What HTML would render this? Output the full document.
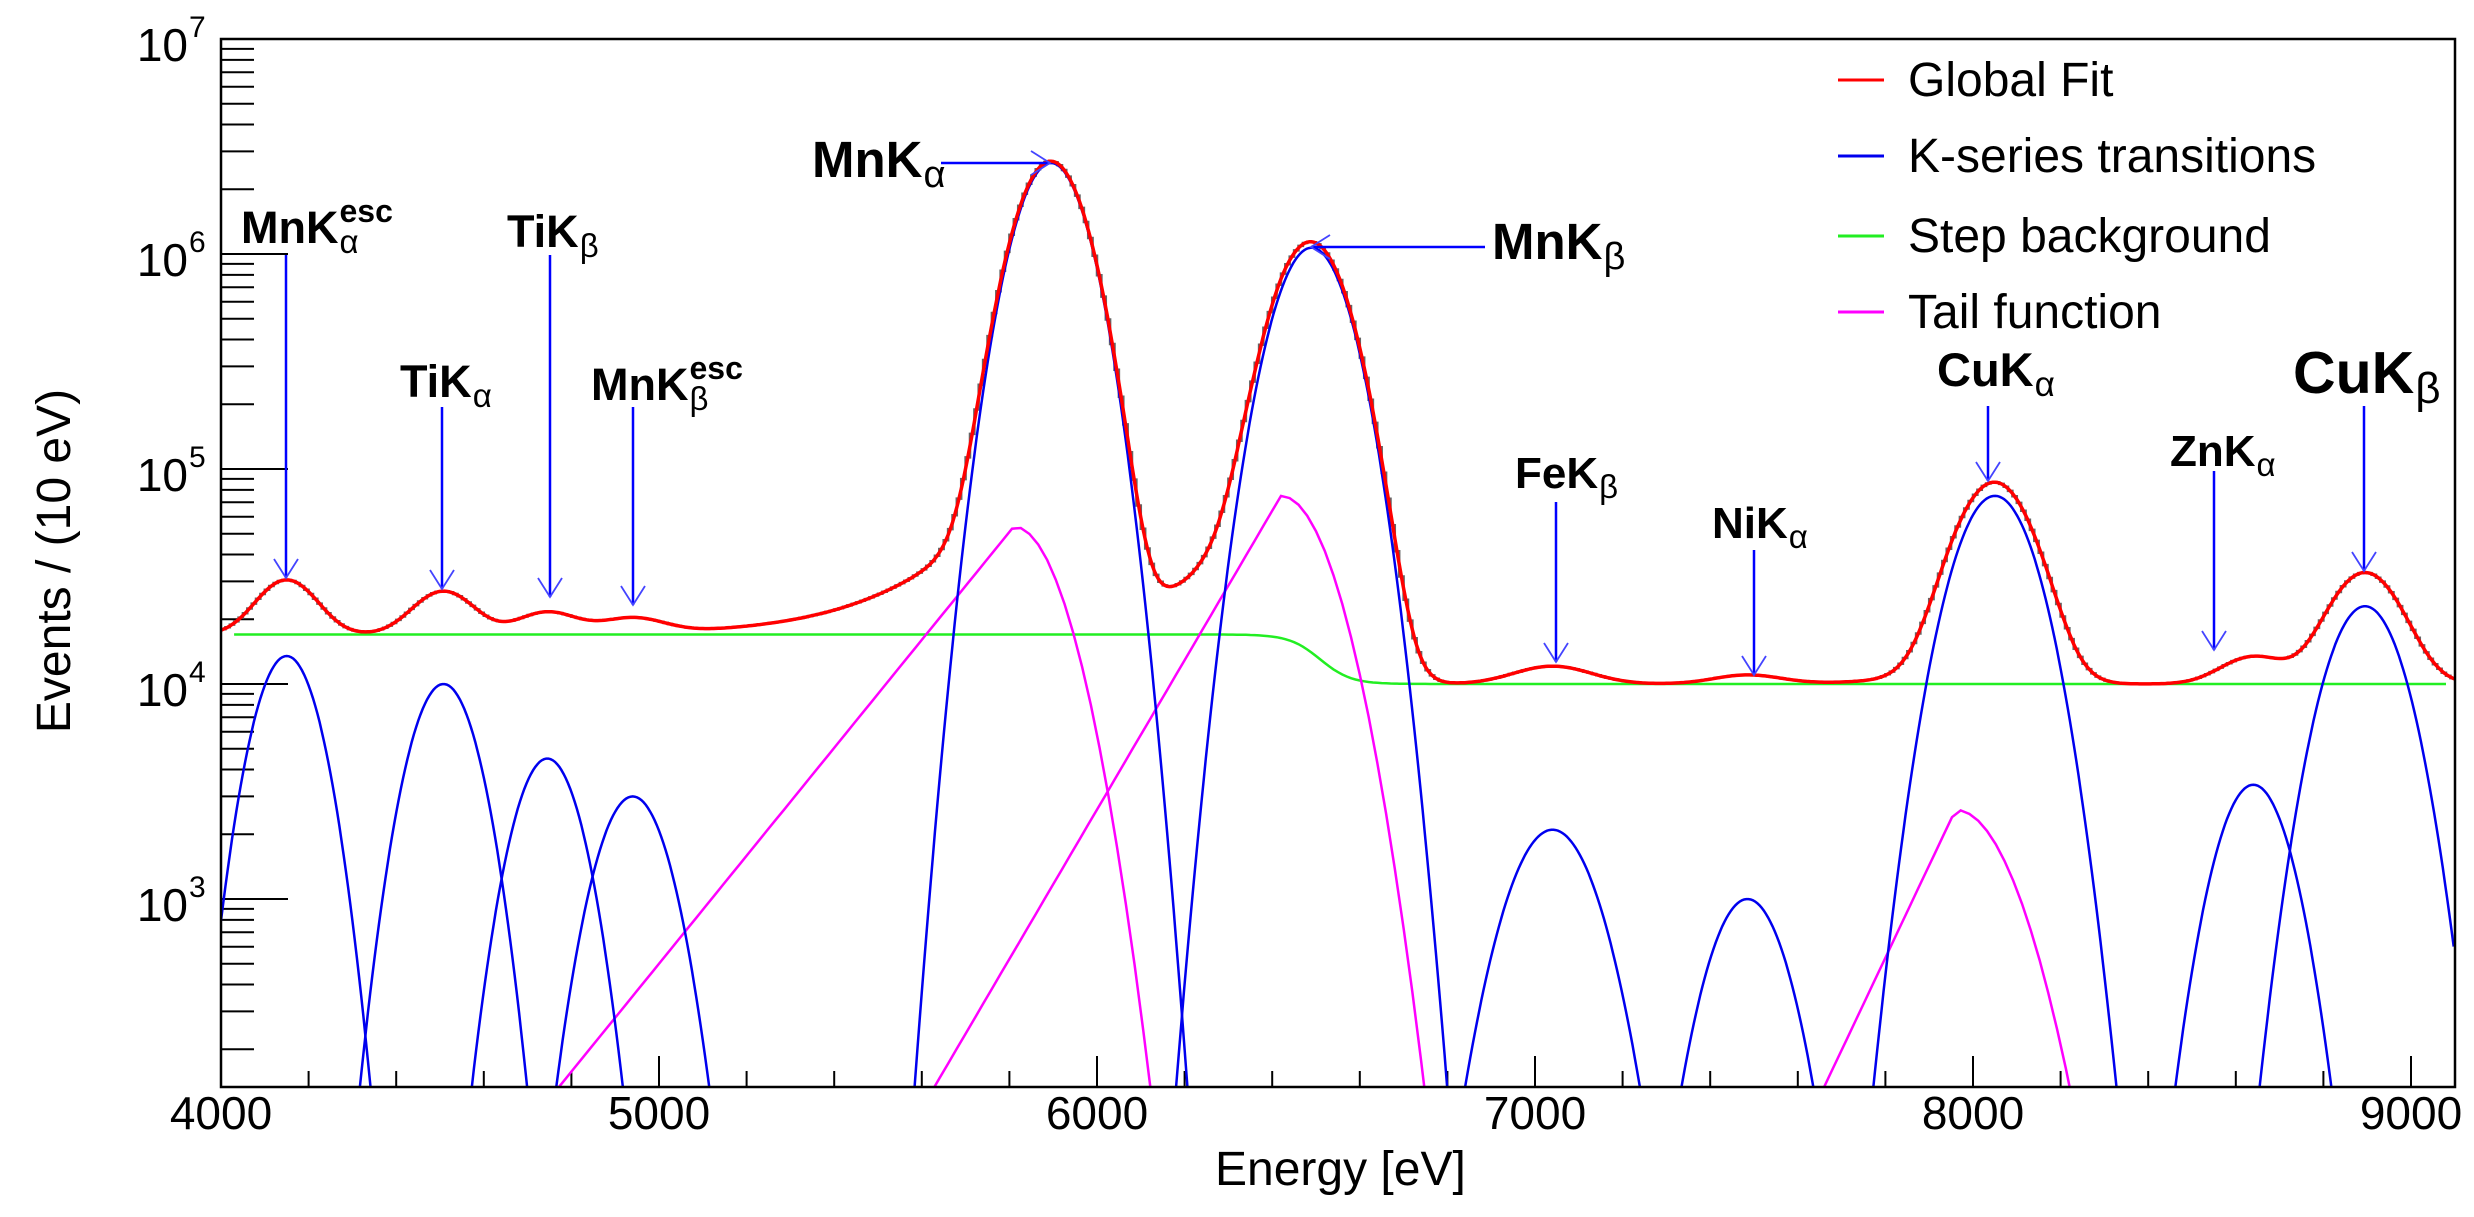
<!DOCTYPE html>
<html><head><meta charset="utf-8"><style>
html,body{margin:0;padding:0;background:#fff;overflow:hidden;width:2474px;height:1217px;}
svg{display:block;font-family:"Liberation Sans",Arial,sans-serif;}
</style></head><body>
<svg id="chart" width="2474" height="1217" viewBox="0 0 2474 1217" xmlns="http://www.w3.org/2000/svg">
<defs><clipPath id="plotclip"><rect x="221" y="39" width="2234" height="1048"/></clipPath></defs>
<rect x="0" y="0" width="2474" height="1217" fill="#fff"/>
<g id="axes"></g>
<g id="series" clip-path="url(#plotclip)"></g>
<rect x="221" y="39" width="2234" height="1048" fill="none" stroke="#000" stroke-width="2.5"/>
<g id="annot"></g>
<g id="legend"></g>
<text x="1215" y="1185" font-size="48">Energy [eV]</text>
<text transform="translate(70,561) rotate(-90)" text-anchor="middle" font-size="48">Events / (10 eV)</text>
</svg>
<script>
// ---- data ----
const peakNames = ["MnKa-esc","TiKa","TiKb","MnKb-esc","MnKa","MnKb","FeKb","NiKa","CuKa","ZnKa","CuKb"];
const peakEnergy = [4150,4508,4745,4940,5895,6490,7040,7485,8050,8640,8895];
const peakAmp = [13500,10000,4500,3000,2650000,1070000,2100,1000,75000,3400,23000];
const peakSigma = [63,65,65,70,70,73,85,75,78,70,75];
const tailEnergy = [5810,6420,7960];
const tailAmp = [54000,75000,2600];
const tailBeta = [173,125,101];
const tailSigma = [90,92,107];
const stepHigh = 17000, stepLow = 10000, stepCenter = 6500, stepWidth = 70;
const xTickLabels = [4000,5000,6000,7000,8000,9000];
const yDecades = [3,4,5,6,7];

// ---- scales ----
const X0=221, XPX=0.438, YTOP=39, DEC=215, PLOTB=1087, PLOTR=2455;
function xs(E){return X0+(E-4000)*XPX;}
function ys(v){v=Math.max(v,1e-3);return YTOP+(7-Math.log10(v))*DEC;}
const NS="http://www.w3.org/2000/svg";
function mk(tag,attrs,parent){const e=document.createElementNS(NS,tag);for(const k in attrs)e.setAttribute(k,attrs[k]);parent.appendChild(e);return e;}

function gauss(i,E){const d=(E-peakEnergy[i])/peakSigma[i];return peakAmp[i]*Math.exp(-d*d/2);}
function tail(i,E){const d=E-tailEnergy[i];if(d<0)return tailAmp[i]*Math.exp(d/tailBeta[i]);const z=d/tailSigma[i];return tailAmp[i]*Math.exp(-z*z/2);}
function step(E){return stepLow+(stepHigh-stepLow)*0.5*(1-Math.tanh((E-stepCenter)/stepWidth));}
function fit(E){let s=step(E);for(let i=0;i<peakEnergy.length;i++)s+=gauss(i,E);for(let i=0;i<tailEnergy.length;i++)s+=tail(i,E);return s;}

const axes=document.getElementById('axes');
const series=document.getElementById('series');
const annot=document.getElementById('annot');
const legend=document.getElementById('legend');

// ---- axes ticks ----
for(let E=4000;E<=9100;E+=200){
  const major=(E%1000===0);
  const t=mk('line',{x1:xs(E),x2:xs(E),y1:PLOTB,y2:PLOTB-(major?31:16),stroke:'#000','stroke-width':2},axes);
  
  
}
xTickLabels.forEach(v=>{
  const t=mk('text',{x:xs(v),y:1129,'text-anchor':'middle','font-size':46},axes);
  t.textContent=String(v);
  
  
});
const ymin=Math.pow(10,7-(PLOTB-YTOP)/DEC);
yDecades.forEach(d=>{
  for(let m=1;m<=9;m++){
    const v=m*Math.pow(10,d-1);
    if(v<ymin||v>1e7+1)continue;
    const t=mk('line',{x1:X0,x2:X0+33,y1:ys(v),y2:ys(v),stroke:'#000','stroke-width':2},axes);
    
    
  }
  const mj=mk('line',{x1:X0,x2:X0+67,y1:ys(Math.pow(10,d)),y2:ys(Math.pow(10,d)),stroke:'#000','stroke-width':2},axes);
  
  
  const yy=ys(Math.pow(10,d));
  const lab=mk('text',{x:188,y:yy+22,'text-anchor':'end','font-size':46},axes);
  lab.textContent='10';
  
  
  const sup=mk('text',{x:189,y:yy-2,'font-size':30},axes);
  sup.textContent=String(d);
  
  
});

// ---- series ----
function pathFrom(fn,E0,E1,dE){let d='';for(let E=E0;E<=E1+1e-6;E+=dE){d+=(d?'L':'M')+xs(E).toFixed(1)+','+ys(fn(E)).toFixed(1);}return d;}
let hd='';
for(let E=4000;E<9100;E+=10){const y=ys(fit(E+5)).toFixed(1);hd+=(hd?'L':'M')+xs(E).toFixed(1)+','+y+'L'+xs(E+10).toFixed(1)+','+y;}
const hist=mk('path',{d:hd,fill:'none',stroke:'#666','stroke-width':2.5},series);


const stp=mk('path',{d:pathFrom(step,4030,9080,10),fill:'none',stroke:'#22ee22','stroke-width':2.5},series);


for(let i=0;i<tailEnergy.length;i++){
  const p=mk('path',{d:pathFrom(E=>tail(i,E),Math.max(4000,tailEnergy[i]-tailBeta[i]*8),Math.min(9100,tailEnergy[i]+tailSigma[i]*5),20),fill:'none',stroke:'#ff00ff','stroke-width':2.5},series);
  
  
}
for(let i=0;i<peakEnergy.length;i++){
  const p=mk('path',{d:pathFrom(E=>gauss(i,E),Math.max(4000,peakEnergy[i]-peakSigma[i]*5.5),Math.min(9100,peakEnergy[i]+peakSigma[i]*5.5),5),fill:'none',stroke:'#0000ee','stroke-width':2.5},series);
  
  
}
const gf=mk('path',{d:pathFrom(fit,4000,9100,5),fill:'none',stroke:'#ff0000','stroke-width':3.5},series);



// ---- annotations ----
const arrowsV=[[286,255,578],[442,407,589],[550,255,597],[633,407,605],[1556,502,662],[1754,550,675],[1988,406,481],[2214,471,650],[2364,406,571]];
arrowsV.forEach(a=>{
  const l=mk('line',{x1:a[0],x2:a[0],y1:a[1],y2:a[2],stroke:'#0000ff','stroke-width':2.5},annot);
  
  
  const h=mk('path',{d:`M${a[0]-12},${a[2]-19}L${a[0]},${a[2]}L${a[0]+12},${a[2]-19}`,fill:'none',stroke:'#4444ff','stroke-width':1.8},annot);
  
  
});
const arrowsH=[[941,1050,163],[1485,1311,247]];
arrowsH.forEach(a=>{
  const l=mk('line',{x1:a[0],x2:a[1],y1:a[2],y2:a[2],stroke:'#0000ff','stroke-width':2.5},annot);
  
  
  const s=Math.sign(a[1]-a[0]);
  const h=mk('path',{d:`M${a[1]-s*19},${a[2]-12}L${a[1]},${a[2]}L${a[1]-s*19},${a[2]+12}`,fill:'none',stroke:'#4444ff','stroke-width':1.8},annot);
  
  
});
const labels=[
 ['MnK','α','esc',241,243,45],['TiK','α','',400,397,45],['TiK','β','',507,247,45],['MnK','β','esc',591,400,45],
 ['MnK','α','',812,177,51],['MnK','β','',1492,259,51],['FeK','β','',1515,488,44],['NiK','α','',1712,538,44],
 ['CuK','α','',1937,386,47],['ZnK','α','',2170,466,44],['CuK','β','',2293,393,59]
];
labels.forEach(L=>{
  const t=mk('text',{x:L[3],y:L[4],'font-size':L[5],'font-weight':'bold'},annot);
  t.textContent=L[0];
  
  
  const w=t.getComputedTextLength();
  const sub=mk('text',{x:L[3]+w+1,y:L[4]+10,'font-size':Math.round(L[5]*0.74)},annot);
  sub.textContent=L[1];
  
  
  if(L[2]){
    const sp=mk('text',{x:L[3]+w+1,y:L[4]-21,'font-size':Math.round(L[5]*0.72),'font-weight':'bold'},annot);
    sp.textContent=L[2];
    
    
  }
});

// ---- legend ----
const legNames=['Global Fit','K-series transitions','Step background','Tail function'];
const legColors=['#ff0000','#0000ee','#22ee22','#ff00ff'];
const legY=[96,172,252,328];
legNames.forEach((n,i)=>{
  const l=mk('line',{x1:1838,x2:1884,y1:legY[i]-16,y2:legY[i]-16,stroke:legColors[i],'stroke-width':3},legend);
  
  
  const t=mk('text',{x:1908,y:legY[i],'font-size':48},legend);
  t.textContent=n;
  
  
});
</script>
</body></html>
